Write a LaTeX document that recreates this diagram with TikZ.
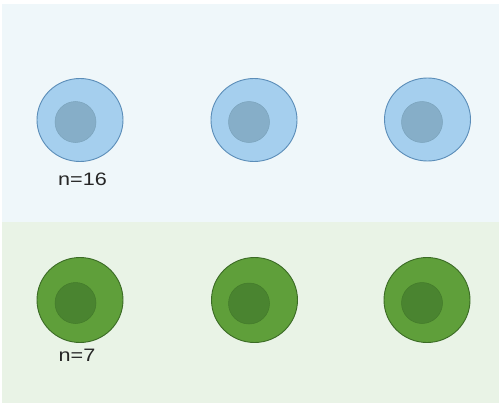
\documentclass[tikz,border=0pt]{standalone}
\usepackage{fontspec}
\setmainfont{Liberation Sans}
\usetikzlibrary{shapes.geometric}
\definecolor{bandblue}{HTML}{EFF7FA}
\definecolor{bandgreen}{HTML}{E9F3E6}
\definecolor{cellblue}{HTML}{A5CFEE}
\definecolor{edgeblue}{HTML}{5B8DB8}
\definecolor{nucblue}{HTML}{86AEC8}
\definecolor{nucblueedge}{HTML}{7BA3BC}
\definecolor{cellgreen}{HTML}{5F9F3A}
\definecolor{edgegreen}{HTML}{3B6B25}
\definecolor{nucgreen}{HTML}{4A8430}
\definecolor{nucgreenedge}{HTML}{437A2B}
\tikzset{
  bluecell/.style={ellipse, minimum width=86pt, minimum height=83pt, inner sep=0pt,
    fill=cellblue, draw=edgeblue, line width=0.9pt},
  bluenuc/.style={circle, minimum size=41pt, inner sep=0pt,
    fill=nucblue, draw=nucblueedge, line width=0.5pt},
  greencell/.style={ellipse, minimum width=86pt, minimum height=85pt, inner sep=0pt,
    fill=cellgreen, draw=edgegreen, line width=0.9pt},
  greennuc/.style={circle, minimum size=41pt, inner sep=0pt,
    fill=nucgreen, draw=nucgreenedge, line width=0.5pt},
  countlabel/.style={font=\fontsize{18}{20}\selectfont, text=black!85, xscale=1.2, inner sep=0pt}
}
\begin{document}
\begin{tikzpicture}[x=1pt,y=-1pt]
  \useasboundingbox (0,0) rectangle (500,404);
  \fill[white] (0,0) rectangle (500,404);
  % background bands
  \fill[bandblue] (2,4) rectangle (499,222);
  \fill[bandgreen] (2,222) rectangle (499,403);
  % upper row of cells
  \node[bluecell] (b1) at (80,120) {};
  \node[bluenuc] (bn1) at (75.5,122) {};
  \node[bluecell] (b2) at (254,120) {};
  \node[bluenuc] (bn2) at (249,122) {};
  \node[bluecell] (b3) at (427.5,119.5) {};
  \node[bluenuc] (bn3) at (422,122) {};
  \node[countlabel] (n16) at (82.5,179) {n=16};
  % lower row of cells
  \node[greencell] (g1) at (80,300) {};
  \node[greennuc] (gn1) at (75.5,303) {};
  \node[greencell] (g2) at (254.5,300) {};
  \node[greennuc] (gn2) at (249,303.5) {};
  \node[greencell] (g3) at (427,300) {};
  \node[greennuc] (gn3) at (422,303) {};
  \node[countlabel] (n7) at (77,355.5) {n=7};
\end{tikzpicture}
\end{document}
